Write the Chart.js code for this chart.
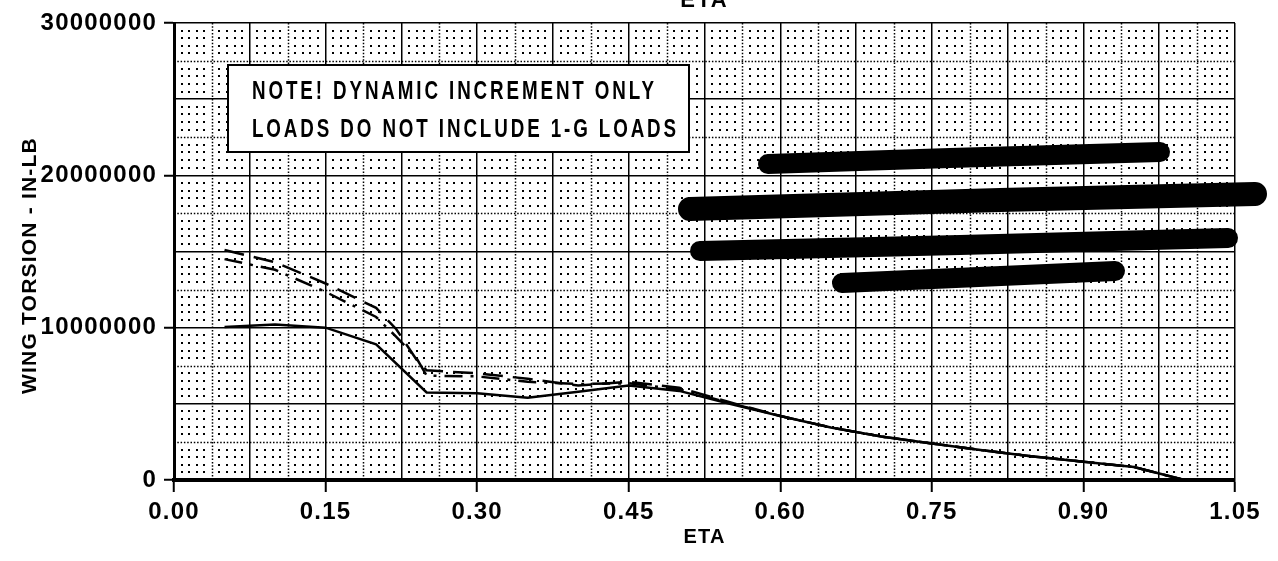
<!DOCTYPE html>
<html>
<head>
<meta charset="utf-8">
<script src="https://cdn.jsdelivr.net/npm/chart.js@4.4.1/dist/chart.umd.min.js"></script>
<style>
html,body{margin:0;padding:0;background:#fff;overflow:hidden}
canvas{display:block}
</style>
</head>
<body>
<canvas id="torsionChart" width="1278" height="561"></canvas>
<script>
// Wing torsion (dynamic increment) along span
const etaSolid = [0.05,0.10,0.15,0.20,0.25,0.30,0.35,0.40,0.45,0.50,0.55,0.60,0.65,0.70,0.75,0.80,0.85,0.90,0.95,1.00];
const torsionSolid = [10050000,10200000,10000000,8900000,5750000,5700000,5400000,5800000,6200000,5850000,5000000,4200000,3450000,2850000,2400000,1950000,1550000,1200000,850000,0];

const etaDash = [0.05,0.10,0.15,0.20,0.22,0.24,0.25,0.30,0.35,0.40,0.45,0.50,0.55,0.60,0.65,0.70,0.75,0.80,0.85,0.90,0.95,1.00];
const torsionDashA = [15100000,14300000,12900000,11300000,9900000,7900000,7200000,7000000,6650000,6200000,6450000,6050000,5100000,4200000,3450000,2850000,2400000,1950000,1550000,1200000,850000,0];
const torsionDashB = [14500000,13800000,12350000,10700000,9400000,8000000,6850000,6800000,6450000,6300000,6350000,5950000,5050000,4200000,3450000,2850000,2400000,1950000,1550000,1200000,850000,0];

const xTicks = [0.00,0.15,0.30,0.45,0.60,0.75,0.90,1.05];
const yTicks = [0,10000000,20000000,30000000];
const noteLines = ['NOTE! DYNAMIC INCREMENT ONLY','LOADS DO NOT INCLUDE 1-G LOADS'];

const FONT = "'Liberation Sans',Arial,sans-serif";
const pts = (xs, ys) => xs.map((x, i) => ({x: x, y: ys[i]}));
const isLabelX = v => xTicks.some(t => Math.abs(t - v) < 1e-6);
const isLabelY = v => yTicks.some(t => Math.abs(t - v) < 1);

// fine dotted grid + note box + redaction marks
const paperPlugin = {
  id: 'paper',
  beforeDraw(chart) {
    chart.ctx.letterSpacing = '1.2px';
  },
  beforeDatasetsDraw(chart) {
    const {ctx, chartArea: a, scales: {x, y}} = chart;
    ctx.save();
    ctx.letterSpacing = '0px';
    ctx.strokeStyle = '#000';
    ctx.lineWidth = 1.5;
    ctx.setLineDash([1.5, 1.8]);
    for (let v = 0.0375; v < 1.05; v += 0.075) {
      const px = Math.round(x.getPixelForValue(v)) + 0.5;
      ctx.beginPath(); ctx.moveTo(px, a.top); ctx.lineTo(px, a.bottom); ctx.stroke();
    }
    for (let v = 2500000; v < 30000000; v += 5000000) {
      const py = Math.round(y.getPixelForValue(v)) + 0.5;
      ctx.beginPath(); ctx.moveTo(a.left, py); ctx.lineTo(a.right, py); ctx.stroke();
    }
    ctx.setLineDash([]);
    ctx.fillStyle = '#000';
    for (let i = 1; i < 140; i++) {
      if (i % 5 === 0) continue;
      const px = Math.round(x.getPixelForValue(i * 0.0075));
      for (let j = 1; j < 60; j++) {
        if (j % 5 === 0) continue;
        const py = Math.round(y.getPixelForValue(j * 500000));
        ctx.fillRect(px - 1, py - 1, 2, 2);
      }
    }
    ctx.restore();
  },
  afterDatasetsDraw(chart) {
    const {ctx, chartArea: a} = chart;
    ctx.save();
    // note box
    const bx = a.left + 54, by = a.top + 42, bw = 461, bh = 87;
    ctx.fillStyle = '#fff';
    ctx.fillRect(bx, by, bw, bh);
    ctx.strokeStyle = '#000';
    ctx.lineWidth = 2;
    ctx.strokeRect(bx, by, bw, bh);
    ctx.fillStyle = '#000';
    ctx.font = 'bold 26px ' + FONT;
    ctx.letterSpacing = '4px';
    ctx.textBaseline = 'alphabetic';
    const sx = 427 / ctx.measureText(noteLines[1]).width;
    noteLines.forEach((t, i) => {
      ctx.save();
      ctx.translate(bx + 24, by + 34 + i * 38);
      ctx.scale(sx, 1);
      ctx.fillText(t, 0, 0);
      ctx.restore();
    });
    // blacked-out text
    ctx.lineCap = 'round';
    ctx.lineJoin = 'round';
    const marks = [
      [[768,164],[950,158],[1160,152],20],
      [[690,209],[1000,200],[1255,194],24],
      [[700,251],[960,245],[1228,238],20],
      [[842,283],[1115,271],20]
    ];
    marks.forEach(m => {
      ctx.lineWidth = m[m.length - 1];
      ctx.beginPath();
      m.slice(0, -1).forEach((p, k) => k ? ctx.lineTo(p[0], p[1]) : ctx.moveTo(p[0], p[1]));
      ctx.stroke();
    });
    // cut-off heading at the very top
    ctx.font = 'bold 22px ' + FONT;
    ctx.textAlign = 'center';
    ctx.letterSpacing = '2px';
    ctx.fillText('ETA', (a.left + a.right) / 2, 7);
    ctx.restore();
  }
};

new Chart(document.getElementById('torsionChart'), {
  type: 'line',
  data: {
    datasets: [
      {label: 'Solid', data: pts(etaSolid, torsionSolid), borderColor: '#000', borderWidth: 2.5, pointRadius: 0, fill: false, tension: 0},
      {label: 'Dash A', data: pts(etaDash, torsionDashA), borderColor: '#000', borderWidth: 2.5, borderDash: [20, 10], pointRadius: 0, fill: false, tension: 0},
      {label: 'Dash B', data: pts(etaDash, torsionDashB), borderColor: '#000', borderWidth: 2.5, borderDash: [18, 8, 3, 8], pointRadius: 0, fill: false, tension: 0}
    ]
  },
  options: {
    responsive: false, animation: false, devicePixelRatio: 1,
    layout: {padding: {left: 0, right: 43, top: 23, bottom: 0}},
    plugins: {legend: {display: false}, tooltip: {enabled: false}},
    scales: {
      x: {
        type: 'linear', min: 0, max: 1.05,
        afterFit: s => { s.height = 81; },
        border: {display: true, color: '#000', width: 4},
        grid: {color: '#000', lineWidth: 1.5, tickLength: 12,
          tickColor: c => (c.tick && isLabelX(c.tick.value)) ? '#000' : 'rgba(0,0,0,0)', tickWidth: 2},
        ticks: {stepSize: 0.075, autoSkip: false, maxRotation: 0, padding: 6, color: '#000',
          font: {family: FONT, size: 24, weight: 'bold'},
          callback: v => isLabelX(v) ? v.toFixed(2) : ''},
        title: {display: true, text: 'ETA', color: '#000', padding: {top: 0, bottom: 12},
          font: {family: FONT, size: 20, weight: 'bold'}}
      },
      y: {
        min: 0, max: 30000000,
        afterFit: s => { s.width = 174; },
        border: {display: true, color: '#000', width: 3},
        grid: {color: '#000', lineWidth: 1.5, tickLength: 10,
          tickColor: c => (c.tick && isLabelY(c.tick.value)) ? '#000' : 'rgba(0,0,0,0)', tickWidth: 2},
        ticks: {stepSize: 5000000, autoSkip: false, padding: 7, color: '#000',
          font: {family: FONT, size: 24, weight: 'bold'},
          callback: v => isLabelY(v) ? String(v) : ''},
        // trailing spaces push the rotated text a little below the middle, as in the original
        title: {display: true, text: 'WING TORSION - IN-LB    ', color: '#000', padding: {top: 18, bottom: 0},
          font: {family: FONT, size: 21, weight: 'bold'}}
      }
    }
  },
  plugins: [paperPlugin]
});
</script>
</body>
</html>
